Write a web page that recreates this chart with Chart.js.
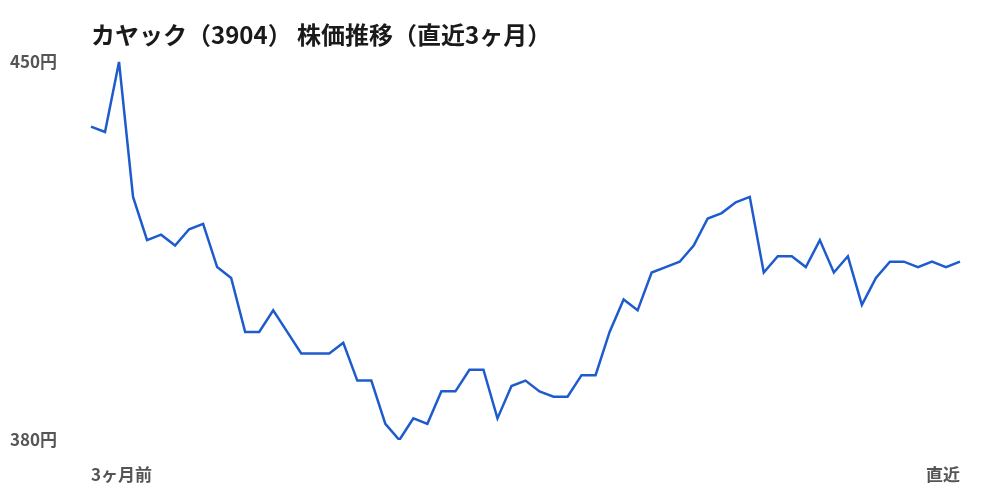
<!DOCTYPE html>
<html lang="ja">
<head>
<meta charset="utf-8">
<title>カヤック（3904） 株価推移</title>
<script src="https://cdn.jsdelivr.net/npm/chart.js@4"></script>
<style>
  html, body { margin: 0; padding: 0; background: #fff; }
  .wrap { width: 1000px; height: 500px; position: relative; }
</style>
</head>
<body>
<div class="wrap"><canvas id="myChart"></canvas></div>
<script>
// 終値（円）… 3ヶ月前 → 直近
const prices = [
  438, 437, 450, 425, 417, 418, 416, 419, 420, 412,
  410, 400, 400, 404, 400, 396, 396, 396, 398, 391,
  391, 383, 380, 384, 383, 389, 389, 393, 393, 384,
  390, 391, 389, 388, 388, 392, 392, 400, 406, 404,
  411, 412, 413, 416, 421, 422, 424, 425, 411, 414,
  414, 412, 417, 411, 414, 405, 410, 413, 413, 412,
  413, 412, 413
];
const firstLabel = '3ヶ月前';
const lastLabel = '直近';
const yTicks = [380, 450];
const chartTitle = 'カヤック（3904） 株価推移（直近3ヶ月）';

const labels = prices.map((_, i) => i === 0 ? firstLabel : (i === prices.length - 1 ? lastLabel : ''));

const font = "'Noto Sans CJK JP', 'Noto Sans', sans-serif";

const config = {
  type: 'line',
  data: {
    labels: labels,
    datasets: [{
      label: '株価',
      data: prices,
      borderColor: '#1e5ccd',
      borderWidth: 2.5,
      pointRadius: 0,
      tension: 0,
      fill: false
    }]
  },
  options: {
    responsive: false,
    animation: false,
    devicePixelRatio: 1,
    layout: { padding: { left: 10, right: 40, top: 0, bottom: 15 } },
    plugins: {
      legend: { display: false },
      tooltip: { enabled: false },
      title: {
        display: true,
        text: chartTitle,
        align: 'start',
        fullSize: false,
        color: '#1a1a1a',
        font: { family: font, size: 24, weight: 'bold' },
        padding: { top: 20, bottom: 13 }
      }
    },
    scales: {
      x: {
        grid: { display: false, drawTicks: false },
        border: { display: false },
        afterFit: (scale) => { scale.height = 45; },
        ticks: {
          autoSkip: false,
          maxRotation: 0,
          align: 'inner',
          padding: 24,
          color: '#555',
          font: { family: font, size: 17, weight: 'bold' }
        }
      },
      y: {
        min: yTicks[0],
        max: yTicks[1],
        grid: { display: false, drawTicks: false },
        border: { display: false },
        afterBuildTicks: (scale) => { scale.ticks = yTicks.map(v => ({ value: v })); },
        afterFit: (scale) => { scale.width = 81; },
        ticks: {
          crossAlign: 'far',
          padding: 0,
          color: '#555',
          font: { family: font, size: 17, weight: 'bold' },
          callback: (v) => v + '円'
        }
      }
    }
  }
};

const cv = document.getElementById('myChart');
cv.width = 1000;
cv.height = 500;
new Chart(cv, config);
</script>
</body>
</html>
